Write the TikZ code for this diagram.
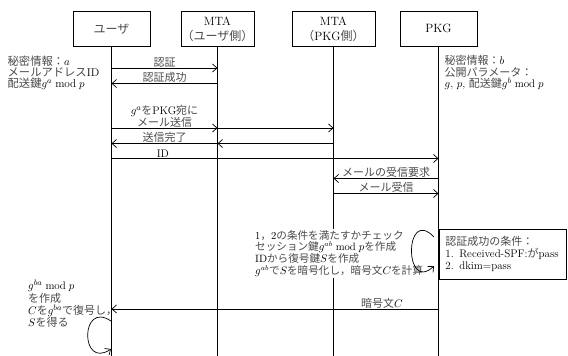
\documentclass[tikz,border=0pt]{standalone}
\usepackage{fontspec}
\usetikzlibrary{arrows.meta}
\newfontfamily\jpfont[Color=4A4A4A]{Noto Sans CJK JP}
\newcommand\jp[1]{{\jpfont #1}}
\begin{document}
\begin{tikzpicture}[x=1pt,y=-1pt,
  actor/.style={draw, line width=0.8pt, minimum height=35.7, inner xsep=0.5pt, inner ysep=1pt,
    align=center, font=\fontsize{12}{15}\selectfont},
  life/.style={line width=0.8pt},
  msg/.style={line width=0.7pt, -{Straight Barb[length=4.5pt,width=8pt]}},
  lbl/.style={font=\fontsize{11}{11.5}\selectfont, inner sep=0.6pt},
  txt/.style={anchor=north west, align=left, inner sep=0pt},
]
\useasboundingbox (0,0) rectangle (568,356);

% participants
\node[actor, minimum width=77] (u)  at (111.5,28.85) {\jp{ユーザ}};
\node[actor, minimum width=73] (m1) at (217.5,28.85) {MTA\\\jp{（ユーザ側）}};
\node[actor, minimum width=83] (m2) at (333.5,28.85) {MTA\\\jp{（}PKG\jp{側）}};
\node[actor, minimum width=77] (p)  at (438.5,28.85) {PKG};

% lifelines
\coordinate (ub) at (111.5,356);
\coordinate (m1b) at (217.5,356);
\coordinate (m2b) at (333.5,356);
\coordinate (pb) at (438.5,356);
\draw[life] (u.south) -- (ub);
\draw[life] (m1.south) -- (m1b);
\draw[life] (m2.south) -- (m2b);
\draw[life] (p.south) -- (pb);

% side texts
\node[txt, font=\fontsize{11.3}{11.3}\selectfont] (ua) at (7.5,55.5)
  {\jp{秘密情報：}$a$\\\jp{メールアドレス}ID\\\jp{配送鍵}$g^a \bmod p$};
\node[txt, font=\fontsize{11}{11.5}\selectfont] (pa) at (444.5,55.5)
  {\jp{秘密情報：}$b$\\\jp{公開パラメータ：}\\$g$, $p$, \jp{配送鍵}$g^b \bmod p$};

% messages
\draw[msg] (u |- 0,68) -- node[lbl, above] {\jp{認証}} (m1 |- 0,68);
\draw[msg] (m1 |- 0,83.5) -- node[lbl, above] {\jp{認証成功}} (u |- 0,83.5);
\draw[msg] (u |- 0,128) -- node[lbl, above, align=center]
  {$g^a$\jp{を}PKG\jp{宛に}\\\jp{メール送信}} (m1 |- 0,128);
\draw[msg] (m1 |- 0,128) -- (m2 |- 0,128);
\draw[msg] (m2 |- 0,143.5) -- (m1 |- 0,143.5);
\draw[msg] (m1 |- 0,143.5) -- node[lbl, above] {\jp{送信完了}} (u |- 0,143.5);
\draw[msg] (u |- 0,158.5) -- node[lbl, above, pos=0.157] {ID} (p |- 0,158.5);
\draw[msg] (p |- 0,178.5) -- node[lbl, above] {\jp{メールの受信要求}} (m2 |- 0,178.5);
\draw[msg] (m2 |- 0,193.5) -- node[lbl, above] {\jp{メール受信}} (p |- 0,193.5);

% PKG processing
\node[txt, fill=white, inner sep=1.5pt, font=\fontsize{10.6}{11.7}\selectfont] (proc) at (253.5,228.5)
  {1\jp{，}2\jp{の条件を満たすかチェック}\\
   \jp{セッション鍵}$g^{ab} \bmod p$\jp{を作成}\\
   ID\jp{から復号鍵}$S$\jp{を作成}\\
   $g^{ab}$\jp{で}$S$\jp{を暗号化し，暗号文}$C$\jp{を計算}};
\coordinate (pl1) at (434,237);
\coordinate (pl2) at (434,266);
\draw[msg] (pl1) .. controls (404,206) and (404,294) .. (pl2);
\node[draw, line width=0.8pt, anchor=north west, minimum width=127, minimum height=50,
  text width=114, inner xsep=6.5pt, inner ysep=2pt, align=left,
  font=\fontsize{11}{12}\selectfont] (cond) at (438.5,229)
  {\jp{認証成功の条件：}\\1. Received-SPF:\jp{が}pass\\2. dkim=pass};

\draw[msg] (p |- 0,309) -- node[lbl, above, pos=0.173] {\jp{暗号文}$C$} (u |- 0,309);

% user processing
\node[txt, font=\fontsize{11}{12.4}\selectfont] (dec) at (28,280)
  {$g^{ba} \bmod p$\\\jp{を作成}\\$C$\jp{を}$g^{ba}$\jp{で復号し，}\\$S$\jp{を得る}};
\coordinate (ul1) at (111,321);
\coordinate (ul2) at (111,349);
\draw[msg] (ul1) .. controls (80,300) and (80,370) .. (ul2);
\end{tikzpicture}
\end{document}
